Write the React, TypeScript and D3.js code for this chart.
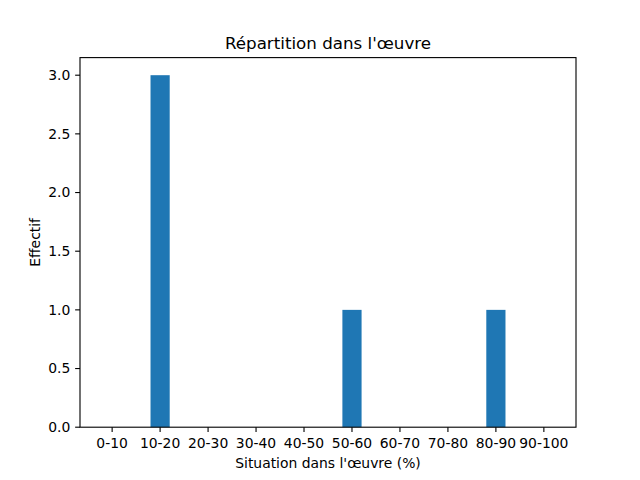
import React from "react";
import * as d3 from "d3";

const categories = ["0-10", "10-20", "20-30", "30-40", "40-50", "50-60", "60-70", "70-80", "80-90", "90-100"];
const values = [0, 3, 0, 0, 0, 1, 0, 0, 1, 0];
const yTicks = [0, 0.5, 1.0, 1.5, 2.0, 2.5, 3.0];
const title = "Répartition dans l'œuvre";
const xLabel = "Situation dans l'œuvre (%)";
const yLabel = "Effectif";

export default function App() {
  const W = 640, H = 480;
  const left = 80, right = 576, top = 57.6, bottom = 427.2;
  const barW = 0.4;
  const n = categories.length;
  const lo = -barW / 2, hi = n - 1 + barW / 2;
  const pad = (hi - lo) * 0.05;
  const x = d3.scaleLinear().domain([lo - pad, hi + pad]).range([left, right]);
  const yMax = d3.max(values)! * 1.05;
  const y = d3.scaleLinear().domain([0, yMax]).range([bottom, top]);
  const font = "DejaVu Sans, sans-serif";
  const fs = 13.9;
  const tick = 4.86;
  return (
    <svg width={W} height={H} style={{ position: "absolute", left: 0, top: 0 }} fontFamily={font}>
      <rect x={0} y={0} width={W} height={H} fill="#fff" />
      {values.map((v, i) => (
        <rect key={i} x={x(i - barW / 2)} y={y(v)} width={x(i + barW / 2) - x(i - barW / 2)} height={y(0) - y(v)} fill="#1f77b4" />
      ))}
      <rect x={left} y={top} width={right - left} height={bottom - top} fill="none" stroke="#000" strokeWidth={1.11} />
      {categories.map((c, i) => (
        <g key={c}>
          <line x1={x(i)} x2={x(i)} y1={bottom} y2={bottom + tick} stroke="#000" strokeWidth={1.11} />
          <text x={x(i)} y={bottom + 2 * tick + 10.6} fontSize={fs} textAnchor="middle">{c}</text>
        </g>
      ))}
      {yTicks.map((t) => (
        <g key={t}>
          <line x1={left - tick} x2={left} y1={y(t)} y2={y(t)} stroke="#000" strokeWidth={1.11} />
          <text x={left - 2 * tick} y={y(t)} dy="0.35em" fontSize={fs} textAnchor="end">{t.toFixed(1)}</text>
        </g>
      ))}
      <text x={(left + right) / 2} y={top - 8.7} fontSize={16.7} textAnchor="middle">{title}</text>
      <text x={(left + right) / 2} y={468} fontSize={fs} textAnchor="middle">{xLabel}</text>
      <text transform={`translate(${40},${(top + bottom) / 2}) rotate(-90)`} fontSize={fs} textAnchor="middle">{yLabel}</text>
    </svg>
  );
}
